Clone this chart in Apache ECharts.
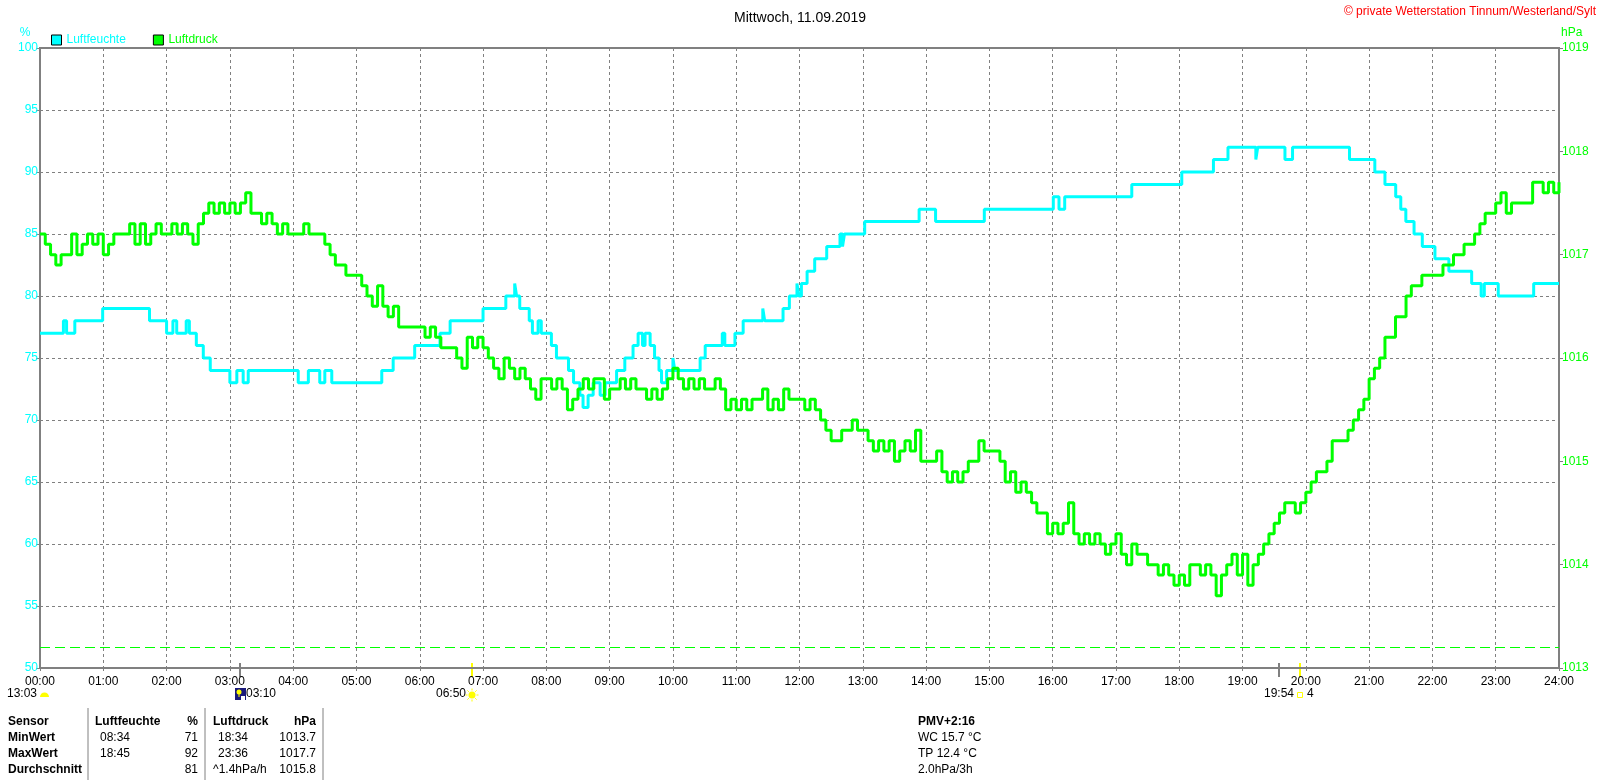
<!DOCTYPE html>
<html lang="de">
<head>
<meta charset="UTF-8">
<title>Mittwoch, 11.09.2019</title>
<script src="https://cdn.jsdelivr.net/npm/echarts@6/dist/echarts.min.js"></script>
<style>
    html, body { margin: 0; padding: 0; background: #fff; }
    #chart { width: 1600px; height: 780px; }
</style>
</head>
<body>
<div id="chart"></div>
<script>
// Achsenbeschriftung
var xTickLabels = ['00:00','01:00','02:00','03:00','04:00','05:00','06:00','07:00','08:00','09:00','10:00','11:00',
    '12:00','13:00','14:00','15:00','16:00','17:00','18:00','19:00','20:00','21:00','22:00','23:00','24:00'];

// Luftfeuchte (%) - Stufen: Wert gilt ab Zeitpunkt (Stunden)
var humTimes = [0.00,0.37,0.42,0.55,0.99,1.73,2.00,2.10,2.16,2.31,2.36,2.47,2.58,2.69,3.00,3.11,3.21,3.29,4.08,4.24,
    4.42,4.50,4.61,5.40,5.58,5.92,6.32,6.48,7.00,7.36,7.50,7.53,7.58,7.73,7.78,7.87,7.92,8.08,8.16,8.35,
    8.43,8.53,8.58,8.66,8.74,8.85,8.93,9.11,9.24,9.37,9.45,9.52,9.56,9.64,9.71,9.78,9.82,9.90,10.00,10.03,
    10.43,10.51,10.78,10.82,10.98,11.11,11.42,11.45,11.74,11.84,11.96,11.99,12.03,12.12,12.24,12.43,12.64,12.68,12.71,13.03,
    13.89,14.15,14.92,16.01,16.10,16.19,17.25,18.04,18.54,18.77,19.21,19.24,19.67,19.79,20.69,21.09,21.25,21.42,21.50,21.58,
    21.71,21.84,22.04,22.26,22.62,22.77,22.82,23.04,23.60,24.00];
var humValues = [77,78,77,78,79,78,77,78,77,78,77,76,75,74,73,74,73,74,73,74,
    73,74,73,74,75,76,77,78,79,80,81,80,79,78,77,78,77,76,75,74,
    73,72,71,72,73,72,73,74,75,76,77,76,77,76,75,74,73,74,75,74,
    75,76,77,76,77,78,79,78,79,80,81,80,81,82,83,84,85,84,85,86,
    87,86,87,88,87,88,89,90,91,92,91,92,91,92,91,90,89,88,87,86,
    85,84,83,82,81,80,81,80,81,81];

// Luftdruck (hPa) - alle 5 Minuten ab 00:00
var pressStepMin = 5;
var pressValues = [
    1017.2,1017.1,1017.0,1016.9,1017.0,1017.0,1017.2,1017.0,1017.1,1017.2,1017.1,1017.2,
    1017.0,1017.1,1017.2,1017.2,1017.2,1017.3,1017.1,1017.3,1017.1,1017.2,1017.3,1017.2,
    1017.2,1017.3,1017.2,1017.3,1017.2,1017.1,1017.3,1017.4,1017.5,1017.4,1017.5,1017.4,
    1017.5,1017.4,1017.5,1017.6,1017.4,1017.4,1017.3,1017.4,1017.3,1017.2,1017.3,1017.2,
    1017.2,1017.2,1017.3,1017.2,1017.2,1017.2,1017.1,1017.0,1016.9,1016.9,1016.8,1016.8,
    1016.8,1016.7,1016.6,1016.5,1016.7,1016.5,1016.4,1016.5,1016.3,1016.3,1016.3,1016.3,
    1016.3,1016.2,1016.3,1016.2,1016.1,1016.1,1016.1,1016.0,1015.9,1016.2,1016.1,1016.2,
    1016.1,1016.0,1015.9,1015.8,1016.0,1015.9,1015.8,1015.9,1015.8,1015.7,1015.6,1015.8,
    1015.8,1015.7,1015.8,1015.7,1015.5,1015.6,1015.7,1015.8,1015.7,1015.8,1015.8,1015.6,
    1015.7,1015.7,1015.8,1015.7,1015.8,1015.7,1015.7,1015.6,1015.7,1015.6,1015.7,1015.8,
    1015.9,1015.8,1015.7,1015.8,1015.7,1015.8,1015.7,1015.7,1015.8,1015.7,1015.5,1015.6,
    1015.5,1015.6,1015.5,1015.6,1015.6,1015.7,1015.5,1015.6,1015.5,1015.7,1015.6,1015.6,
    1015.6,1015.5,1015.6,1015.5,1015.4,1015.3,1015.2,1015.2,1015.3,1015.3,1015.4,1015.3,
    1015.3,1015.2,1015.1,1015.2,1015.1,1015.2,1015.0,1015.1,1015.2,1015.1,1015.3,1015.0,
    1015.0,1015.0,1015.1,1014.9,1014.8,1014.9,1014.8,1014.9,1015.0,1015.0,1015.2,1015.1,
    1015.1,1015.1,1015.0,1014.8,1014.9,1014.7,1014.8,1014.7,1014.6,1014.5,1014.5,1014.3,
    1014.4,1014.3,1014.4,1014.6,1014.3,1014.2,1014.3,1014.2,1014.3,1014.2,1014.1,1014.2,
    1014.3,1014.1,1014.0,1014.2,1014.1,1014.1,1014.0,1014.0,1013.9,1014.0,1013.9,1013.8,
    1013.9,1013.8,1014.0,1014.0,1013.9,1014.0,1013.9,1013.7,1013.9,1014.0,1014.1,1013.9,
    1014.1,1013.8,1014.0,1014.1,1014.2,1014.3,1014.4,1014.5,1014.6,1014.6,1014.5,1014.6,
    1014.7,1014.8,1014.9,1014.9,1015.0,1015.2,1015.2,1015.2,1015.3,1015.4,1015.5,1015.6,
    1015.8,1015.9,1016.0,1016.2,1016.2,1016.4,1016.4,1016.6,1016.7,1016.7,1016.8,1016.8,
    1016.8,1016.8,1016.9,1016.9,1017.0,1017.0,1017.1,1017.1,1017.2,1017.3,1017.4,1017.4,
    1017.5,1017.6,1017.4,1017.5,1017.5,1017.5,1017.5,1017.7,1017.7,1017.6,1017.7,1017.6,
    1017.7];

// Grenzlinie Luftdruck
var pressLimit = 1013.2;

// Ereignisse unter der Zeitachse (Stunden)
var eventTimes  = [3 + 10/60, 6 + 50/60, 19 + 35/60, 19 + 54/60];
var eventKinds  = ['moon', 'sunrise', 'moonset', 'sunset'];
var eventLabels = ['03:10', '06:50', '', '19:54'];
var dayLength = '13:03';
var moonNote = '4';

// Tabelle
var tableRows = [
    ['Sensor', 'Luftfeuchte', '%', 'Luftdruck', 'hPa'],
    ['MinWert', '08:34', '71', '18:34', '1013.7'],
    ['MaxWert', '18:45', '92', '23:36', '1017.7'],
    ['Durchschnitt', '', '81', '^1.4hPa/h', '1015.8']
];
var infoLines = ['PMV+2:16', 'WC 15.7 °C', 'TP 12.4 °C', '2.0hPa/3h'];

var FONT = '"Liberation Sans", Arial, sans-serif';
var GRAY = '#808080';

var humData = [];
for (var i = 0; i < humTimes.length; i++) {
    humData.push([humTimes[i], humValues[i]]);
}
var pressData = [];
for (var j = 0; j < pressValues.length; j++) {
    pressData.push([j * pressStepMin / 60, pressValues[j]]);
}

var myChart = echarts.init(document.getElementById('chart'));

var option = {
    animation: false,
    backgroundColor: '#fff',
    textStyle: { fontFamily: FONT },
    title: {
        text: 'Mittwoch, 11.09.2019',
        left: 'center',
        top: 6,
        textStyle: { fontSize: 14, fontWeight: 'normal', color: '#000', fontFamily: FONT }
    },
    legend: {
        left: 46,
        top: 29,
        icon: 'rect',
        itemWidth: 10,
        itemHeight: 10,
        itemGap: 27,
        textStyle: { fontSize: 12, fontFamily: FONT },
        data: [
            { name: 'Luftfeuchte', textStyle: { color: '#00ffff' }, itemStyle: { borderColor: '#000', borderWidth: 1 } },
            { name: 'Luftdruck', textStyle: { color: '#00ff00' }, itemStyle: { borderColor: '#000', borderWidth: 1 } }
        ]
    },
    grid: {
        left: 40, right: 41, top: 48, bottom: 112,
        show: true, borderColor: GRAY, borderWidth: 2
    },
    xAxis: {
        type: 'value',
        min: 0, max: 24, interval: 1,
        axisLine: { show: true, lineStyle: { color: GRAY, width: 2 } },
        axisTick: { show: true, length: 3, lineStyle: { color: GRAY } },
        axisLabel: {
            color: '#000', fontSize: 12, fontFamily: FONT, margin: 8,
            formatter: function (v) { return xTickLabels[Math.round(v)]; }
        },
        splitLine: { show: true, lineStyle: { color: GRAY, type: [3, 3], width: 1 } }
    },
    yAxis: [{
        type: 'value',
        min: 50, max: 100, interval: 5,
        position: 'left',
        axisLine: { show: true, lineStyle: { color: GRAY, width: 2 } },
        axisTick: { show: true, length: 4, lineStyle: { color: GRAY } },
        axisLabel: { color: '#00ffff', fontSize: 12, fontFamily: FONT, margin: 2 },
        splitLine: { show: true, lineStyle: { color: GRAY, type: [3, 3], width: 1 } }
    }, {
        type: 'value',
        min: 1013, max: 1019, interval: 1,
        position: 'right',
        axisLine: { show: true, lineStyle: { color: GRAY, width: 2 } },
        axisTick: { show: true, length: 4, lineStyle: { color: GRAY } },
        axisLabel: {
            color: '#00ff00', fontSize: 12, fontFamily: FONT, margin: 3,
            formatter: function (v) { return String(v); }
        },
        splitLine: { show: false }
    }],
    series: [{
        name: 'Luftfeuchte',
        type: 'line',
        yAxisIndex: 0,
        step: 'end',
        symbol: 'none',
        data: humData,
        itemStyle: { color: '#00ffff' },
        lineStyle: { color: '#00ffff', width: 3 },
        z: 3
    }, {
        name: 'Luftdruck',
        type: 'line',
        yAxisIndex: 1,
        step: 'end',
        symbol: 'none',
        data: pressData,
        itemStyle: { color: '#00ff00' },
        lineStyle: { color: '#00ff00', width: 3 },
        z: 4,
        markLine: {
            silent: true,
            symbol: 'none',
            label: { show: false },
            lineStyle: { color: '#00ff00', type: [10, 5], width: 1 },
            data: [{ yAxis: pressLimit }]
        }
    }]
};
myChart.setOption(option);

// Texte und Symbole ausserhalb des Diagramms
function txt(x, y, s, opt) {
    opt = opt || {};
    return {
        type: 'text', x: x, y: y, silent: true,
        style: {
            text: s,
            fill: opt.color || '#000',
            font: (opt.bold ? 'bold ' : '') + (opt.size || 12) + 'px ' + FONT,
            align: opt.align || 'left',
            verticalAlign: 'middle'
        }
    };
}

var g = [];
g.push(txt(1596, 12, '© private Wetterstation Tinnum/Westerland/Sylt', { color: '#ff0000', align: 'right' }));
g.push(txt(25, 33, '%', { color: '#00ffff', align: 'center' }));
g.push(txt(1561, 33, 'hPa', { color: '#00ff00' }));

var axisY = myChart.convertToPixel({ yAxisIndex: 0 }, 50);
var labelY = axisY + 26;

// Tageslaenge am Anfang der Achse
var x0 = myChart.convertToPixel({ xAxisIndex: 0 }, 0);
g.push(txt(x0 - 3, labelY, dayLength, { align: 'right' }));
g.push({ type: 'sector', silent: true, shape: { cx: x0 + 4.5, cy: labelY + 3, r0: 0, r: 4.5, startAngle: Math.PI, endAngle: 2 * Math.PI }, style: { fill: '#ffff00' } });

for (var k = 0; k < eventTimes.length; k++) {
    var ex = Math.round(myChart.convertToPixel({ xAxisIndex: 0 }, eventTimes[k]));
    var kind = eventKinds[k];
    var tickColor = (kind === 'sunrise' || kind === 'sunset') ? '#ffff00' : GRAY;
    g.push({ type: 'line', silent: true, shape: { x1: ex, y1: axisY - 5, x2: ex, y2: axisY + 9 }, style: { stroke: tickColor, lineWidth: 2 } });
    if (kind === 'moon') {
        g.push({ type: 'rect', silent: true, shape: { x: ex - 5, y: labelY - 6, width: 11, height: 12 }, style: { fill: '#1a1a7a' } });
        g.push({ type: 'circle', silent: true, shape: { cx: ex - 1, cy: labelY - 2, r: 2.5 }, style: { fill: '#ffff00' } });
        g.push({ type: 'line', silent: true, shape: { x1: ex - 1, y1: labelY - 2, x2: ex - 1, y2: labelY + 3 }, style: { stroke: '#ffff00', lineWidth: 1 } });
        g.push({ type: 'rect', silent: true, shape: { x: ex + 1, y: labelY + 2, width: 4, height: 4 }, style: { fill: '#ffffff' } });
        g.push(txt(ex + 6, labelY, eventLabels[k]));
    } else if (kind === 'sunrise') {
        g.push(txt(ex - 6, labelY, eventLabels[k], { align: 'right' }));
        g.push({ type: 'circle', silent: true, shape: { cx: ex, cy: labelY + 1, r: 3.5 }, style: { fill: '#ffff00' } });
        for (var a = 0; a < 8; a++) {
            var ang = a * Math.PI / 4;
            g.push({ type: 'line', silent: true, shape: {
                x1: ex + Math.cos(ang) * 4.5, y1: labelY + 1 + Math.sin(ang) * 4.5,
                x2: ex + Math.cos(ang) * 6.5, y2: labelY + 1 + Math.sin(ang) * 6.5
            }, style: { stroke: '#ffff00', lineWidth: 1 } });
        }
    } else if (kind === 'sunset') {
        g.push(txt(ex - 6, labelY, eventLabels[k], { align: 'right' }));
        g.push({ type: 'rect', silent: true, shape: { x: ex - 2.5, y: labelY - 1.5, width: 5, height: 5 }, style: { fill: 'none', stroke: '#ffff00', lineWidth: 1 } });
        g.push(txt(ex + 7, labelY, moonNote));
    }
}

// Tabelle unten
var colX = [8, 100, 198, 213, 316];
var colAlign = ['left', 'left', 'right', 'left', 'right'];
var rowY = [722, 738, 754, 770];
for (var r = 0; r < tableRows.length; r++) {
    for (var c = 0; c < tableRows[r].length; c++) {
        var s = tableRows[r][c];
        if (!s) continue;
        var bold = (r === 0 || c === 0);
        var cx = colX[c];
        if (r === 0 && c === 1) cx = 95;
        if (r > 0 && c === 3 && s.charAt(0) !== '^') cx = 218;
        g.push(txt(cx, rowY[r], s, { bold: bold, align: colAlign[c] }));
    }
}
[88, 205, 323].forEach(function (lx) {
    g.push({ type: 'line', silent: true, shape: { x1: lx, y1: 708, x2: lx, y2: 780 }, style: { stroke: GRAY, lineWidth: 1 } });
});
for (var m = 0; m < infoLines.length; m++) {
    g.push(txt(918, rowY[m], infoLines[m], { bold: m === 0 }));
}

myChart.setOption({ graphic: g });
</script>
</body>
</html>
